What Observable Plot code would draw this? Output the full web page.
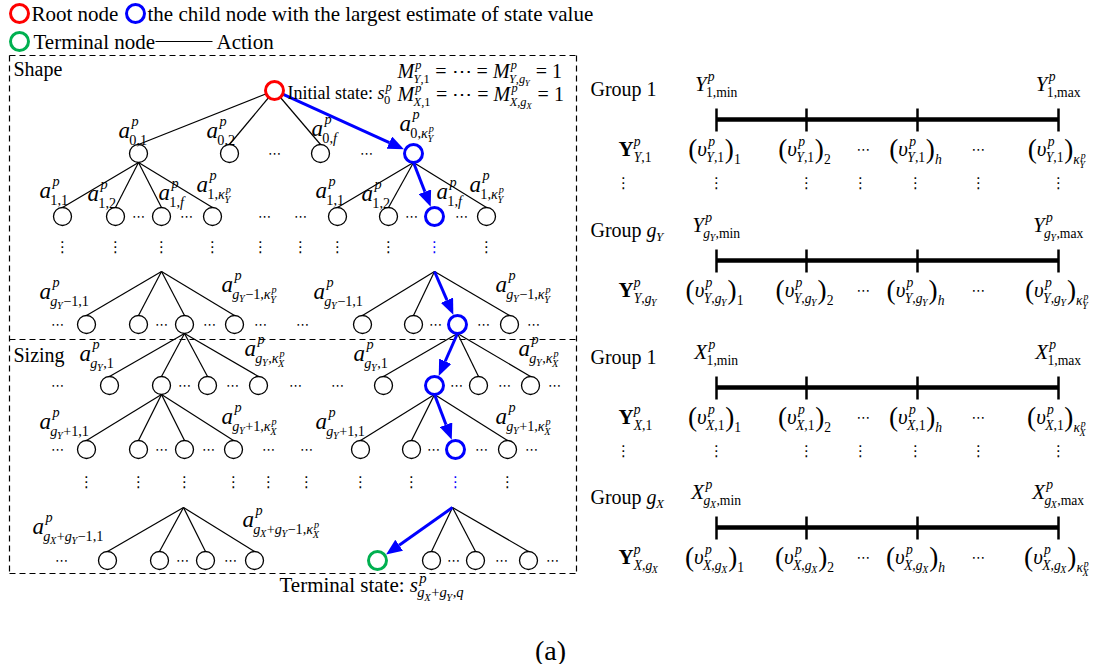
<!DOCTYPE html>
<html>
<head>
<meta charset="utf-8">
<script src="https://cdn.jsdelivr.net/npm/d3@7"></script>
<script src="https://cdn.jsdelivr.net/npm/@observablehq/plot@0.6"></script>
<style>
  html, body { margin: 0; padding: 0; background: #fff; }
</style>
</head>
<body>
<div id="chart"></div>
<script>
// ------------------------------------------------------------------
// DATA (diagram content)
// ------------------------------------------------------------------
const W = 1103, H = 664;
const FONT = '"Liberation Serif", "Times New Roman", serif';
const RED = "#ff0000", BLUE = "#0000ff", GREEN = "#00b050";
const NODE_R = 9;

// legend entries
const legendCircles = [
  {x: 19, y: 13, color: RED},
  {x: 135, y: 13, color: BLUE},
  {x: 19, y: 41, color: GREEN}
];
const legendTexts = [
  {tex: "\\tx{Root node}", x: 31, y: 20},
  {tex: "\\tx{the child node with the largest estimate of state value}", x: 147, y: 20},
  {tex: "\\tx{Terminal node}", x: 33, y: 48},
  {tex: "\\tx{Action}", x: 216, y: 48}
];
const legendLine = [{x1: 155, x2: 212, y: 41}];

// dashed frame: outer box and the divider between Shape and Sizing
const frameX = [9, 576];
const frameY = [55, 339, 573];

// tree: root, and groups of four children hanging from a node or an apex
const root = {x: 274, y: 90};
const treeGroups = [
  {px: 274, py: 90,  from: "root", cy: 153, cx: [138, 229, 320, 413], pick: 3},
  {px: 138, py: 153, from: "node", cy: 216, cx: [62, 115, 161, 212], pick: -1},
  {px: 413, py: 153, from: "node", cy: 216, cx: [337, 388, 434, 486], pick: 2},
  {px: 161, py: 271, from: "apex", cy: 324, cx: [86, 138, 184, 234], pick: -1},
  {px: 434, py: 271, from: "apex", cy: 324, cx: [362, 413, 457, 509], pick: 2},
  {px: 184, py: 324, from: "node", cy: 385, cx: [109, 161, 207, 258], pick: -1},
  {px: 457, py: 324, from: "node", cy: 385, cx: [383, 434, 478, 530], pick: 1},
  {px: 161, py: 385, from: "node", cy: 449, cx: [86, 138, 184, 233], pick: -1},
  {px: 434, py: 385, from: "node", cy: 449, cx: [360, 411, 455, 507], pick: 2},
  {px: 183, py: 507, from: "apex", cy: 560, cx: [107, 159, 205, 254], pick: -1},
  {px: 452, py: 507, from: "apex", cy: 560, cx: [377, 431, 475, 528], pick: 0, terminal: true}
];

// horizontal ellipses between nodes (per row)
const hEllipsisRows = [
  {y: 153, xs: [274, 366]},
  {y: 216, xs: [138, 186, 264, 300, 411, 461]},
  {y: 324, xs: [57, 161, 209, 260, 302, 435, 483, 533]},
  {y: 385, xs: [57, 184, 232, 295, 337, 456, 504, 554]},
  {y: 449, xs: [57, 161, 208, 268, 306, 433, 481, 531]},
  {y: 560, xs: [61, 182, 230, 453, 501, 552]}
];
// vertical ellipses
const vEllipsisRows = [
  {y: 247, xs: [62, 115, 161, 212, 260, 300, 337, 388, 434, 486], blue: 434},
  {y: 482, xs: [86, 138, 184, 233, 268, 306, 360, 411, 455, 507], blue: 455}
];

// action labels on the tree
const actionLabels = [
  {tex: "a^p_{0,1}", x: 118, y: 137},
  {tex: "a^p_{0,2}", x: 206, y: 137},
  {tex: "a^p_{0,f}", x: 311, y: 135},
  {tex: "a^p_{0,κ^p_Y}", x: 399, y: 130},
  {tex: "a^p_{1,1}", x: 39, y: 197},
  {tex: "a^p_{1,2}", x: 87, y: 200},
  {tex: "a^p_{1,f}", x: 158, y: 199},
  {tex: "a^p_{1,κ^p_Y}", x: 196, y: 191},
  {tex: "a^p_{1,1}", x: 315, y: 197},
  {tex: "a^p_{1,2}", x: 361, y: 200},
  {tex: "a^p_{1,f}", x: 436, y: 198},
  {tex: "a^p_{1,κ^p_Y}", x: 469, y: 191},
  {tex: "a^p_{g_Y−1,1}", x: 39, y: 298},
  {tex: "a^p_{g_Y−1,κ^p_Y}", x: 221, y: 291},
  {tex: "a^p_{g_Y−1,1}", x: 313, y: 298},
  {tex: "a^p_{g_Y−1,κ^p_Y}", x: 495, y: 291},
  {tex: "a^p_{g_Y,1}", x: 79, y: 360},
  {tex: "a^p_{g_Y,κ^p_X}", x: 244, y: 355},
  {tex: "a^p_{g_Y,1}", x: 353, y: 360},
  {tex: "a^p_{g_Y,κ^p_X}", x: 518, y: 355},
  {tex: "a^p_{g_Y+1,1}", x: 39, y: 428},
  {tex: "a^p_{g_Y+1,κ^p_X}", x: 221, y: 423},
  {tex: "a^p_{g_Y+1,1}", x: 315, y: 428},
  {tex: "a^p_{g_Y+1,κ^p_X}", x: 495, y: 423},
  {tex: "a^p_{g_X+g_Y−1,1}", x: 32, y: 533},
  {tex: "a^p_{g_X+g_Y−1,κ^p_X}", x: 242, y: 526}
];

// other annotations on the left panel
const mOpts = {scale: 0.62, sup: 0.42, sub: 0.24, subBoth: 0.27};
const panelTexts = [
  {tex: "\\tx{Shape}", x: 13, y: 75, size: 20},
  {tex: "\\tx{Sizing}", x: 13, y: 361, size: 20},
  {tex: "M^p_{Y,1} = ⋯ = M^p_{Y,g_Y} = 1", x: 397, y: 77, size: 20, opts: mOpts},
  {tex: "\\tx{Initial state: }s^p_0", x: 287, y: 98, size: 18},
  {tex: "M^p_{X,1} = ⋯ = M^p_{X,g_X} = 1", x: 397, y: 100, size: 20, opts: mOpts},
  {tex: "\\tx{Terminal state: }s^p_{g_X+g_Y,q}", x: 279, y: 591, size: 21},
  {tex: "\\tx{(a)}", x: 550, y: 659, size: 28, anchor: "middle"}
];

// right panel: discretised ranges
const scaleGroups = [
  {label: "\\tx{Group 1}", min: "Y^p_{1,\\rm{min}}", max: "Y^p_{1,\\rm{max}}", row: "\\bf{Y}^p_{Y,1}", v: "υ^p_{Y,1}", k: "κ^p_Y"},
  {label: "\\tx{Group }g_Y", min: "Y^p_{g_Y,\\rm{min}}", max: "Y^p_{g_Y,\\rm{max}}", row: "\\bf{Y}^p_{Y,g_Y}", v: "υ^p_{Y,g_Y}", k: "κ^p_Y"},
  {label: "\\tx{Group 1}", min: "X^p_{1,\\rm{min}}", max: "X^p_{1,\\rm{max}}", row: "\\bf{Y}^p_{X,1}", v: "υ^p_{X,1}", k: "κ^p_X"},
  {label: "\\tx{Group }g_X", min: "X^p_{g_X,\\rm{min}}", max: "X^p_{g_X,\\rm{max}}", row: "\\bf{Y}^p_{X,g_X}", v: "υ^p_{X,g_X}", k: "κ^p_X"}
];
const scaleBarY = [119, 260, 387, 527];
const tickX = [716, 806, 917, 1058];
const valueIndex = ["1", "2", "h", "k"];
const valueEllipsisX = [863, 978];
const groupLabelX = 590, rowLabelX = 618;
const scaleDotsX = [623, 716, 806, 860, 915, 978, 1058];
const scaleDotsGroups = [0, 2];

// ------------------------------------------------------------------
// small TeX-like layout helper -> text segments for Plot.text
// ------------------------------------------------------------------
const ctx = document.createElement("canvas").getContext("2d");
function measure(text, size, italic, bold) {
  ctx.font = `${italic ? "italic " : ""}${bold ? "bold " : ""}${size}px ${FONT}`;
  return ctx.measureText(text).width;
}
function parseMath(s) {
  let i = 0;
  function list(untilBrace) {
    const items = [];
    while (i < s.length) {
      const c = s[i];
      if (c === "}") { i++; if (untilBrace) return items; continue; }
      if (c === "^" || c === "_") {
        i++;
        const arg = atom();
        if (!items.length) items.push({type: "char", text: ""});
        const last = items[items.length - 1];
        if (c === "^") last.sup = arg; else last.sub = arg;
        continue;
      }
      items.push(atom());
    }
    return items;
  }
  function atom() {
    const c = s[i];
    if (c === "{") { i++; return {type: "group", items: list(true)}; }
    if (c === "\\") {
      let j = i + 1;
      while (j < s.length && /[a-z]/i.test(s[j])) j++;
      const cmd = s.slice(i + 1, j);
      i = j;
      if (s[i] === "{") {
        const end = s.indexOf("}", i);
        const content = s.slice(i + 1, end);
        if (!/[\\^_{]/.test(content)) { i = end + 1; return {type: "char", text: content, mode: cmd}; }
        i++;
        return {type: "group", items: list(true), mode: cmd};
      }
      return {type: "char", text: cmd};
    }
    i++;
    return {type: "char", text: c};
  }
  return list(false);
}
function styleFor(ch, mode) {
  if (mode === "bf") return {italic: false, bold: true};
  if (mode === "rm" || mode === "tx") return {italic: false, bold: false};
  return {italic: /^[A-Za-z\u03b1-\u03c9\u0391-\u03a9]+$/.test(ch), bold: false};
}
const wrap = (a) => (a.type === "group" ? a.items : [a]);
function layout(items, x, y, size, mode, out, o, depth) {
  let cx = x;
  for (const it of items) {
    const m = it.mode || mode;
    let w = 0, italic = false, big = false;
    if (it.type === "group") {
      w = layout(it.items, cx, y, size, m, out, o, depth);
    } else if (it.text) {
      const st = styleFor(it.text, m);
      italic = st.italic;
      let sz = size, dy = 0;
      if (m !== "tx" && /^[()]$/.test(it.text)) { sz = size * 1.3; dy = size * 0.12; big = true; }
      w = measure(it.text, sz, st.italic, st.bold);
      if (it.text.trim()) out.push({x: cx, y: y + dy, text: it.text, size: sz, italic: st.italic, bold: st.bold});
    }
    const k = depth === 0 ? o.scale : 0.72;
    const ss = Math.max(size * k, 9);
    const both = it.sup && it.sub;
    const up = depth === 0 ? o.sup : 0.42;
    const down = depth === 0 ? (both ? o.subBoth : o.sub) : (both ? 0.3 : 0.22);
    let sw = 0;
    if (it.sup) sw = Math.max(sw, layout(wrap(it.sup), cx + w + (italic ? size * 0.06 : 0), y - size * up, ss, "", out, o, depth + 1));
    if (it.sub) sw = Math.max(sw, layout(wrap(it.sub), cx + w - (italic ? size * 0.03 : 0), y + size * (down + (big ? 0.18 : 0)), ss, "", out, o, depth + 1));
    cx += w + sw;
  }
  return cx - x;
}
const defaultOpts = {scale: 0.7, sup: 0.42, sub: 0.22, subBoth: 0.28};
function mathSegs(tex, x, y, size, anchor, opts) {
  const out = [];
  const o = {...defaultOpts, ...(opts || {})};
  const w = layout(parseMath(tex), 0, 0, size, "", out, o, 0);
  const x0 = anchor === "middle" ? x - w / 2 : anchor === "end" ? x - w : x;
  return out.map((d) => ({...d, x: d.x + x0, y: d.y + y}));
}

// ------------------------------------------------------------------
// build mark data
// ------------------------------------------------------------------
const nodeLabelOpts = {scale: 0.62, sup: 0.5, sub: 0.25, subBoth: 0.33};
const rightOpts = {scale: 0.65, sup: 0.45, sub: 0.24, subBoth: 0.3};
const segs = [];
for (const d of legendTexts) segs.push(...mathSegs(d.tex, d.x, d.y, 21));
for (const d of panelTexts) segs.push(...mathSegs(d.tex, d.x, d.y, d.size, d.anchor, d.opts));
for (const d of actionLabels) segs.push(...mathSegs(d.tex, d.x, d.y, 23, "start", nodeLabelOpts));

const bars = [], ticks = [], valueDots = [], vDots = [];
scaleGroups.forEach((g, gi) => {
  const bar = scaleBarY[gi];
  bars.push({x1: tickX[0], x2: tickX[tickX.length - 1], y: bar});
  for (const tx of tickX) ticks.push({x: tx, y1: bar - 11, y2: bar + 12});
  segs.push(...mathSegs(g.label, groupLabelX, bar - 24, 20, "start", rightOpts));
  segs.push(...mathSegs(g.min, tickX[0], bar - 29, 21, "middle", rightOpts));
  segs.push(...mathSegs(g.max, tickX[tickX.length - 1], bar - 29, 21, "middle", rightOpts));
  segs.push(...mathSegs(g.row, rowLabelX, bar + 36, 21, "start", rightOpts));
  valueIndex.forEach((k, c) => {
    const sub = k === "k" ? `{${g.k}}` : k;
    segs.push(...mathSegs(`(${g.v})_${sub}`, tickX[c] - 2, bar + 36, 21, "middle", rightOpts));
  });
  for (const ex of valueEllipsisX) valueDots.push({x: ex, y: bar + 30});
  if (scaleDotsGroups.includes(gi)) for (const dx of scaleDotsX) vDots.push({x: dx, y: bar + 64, blue: false});
});

const nodes = [{x: root.x, y: root.y, kind: "root"}];
const edges = [], arrows = [];
const HEAD = 16;
for (const g of treeGroups) {
  g.cx.forEach((cx, i) => {
    const picked = i === g.pick;
    nodes.push({x: cx, y: g.cy, kind: picked ? (g.terminal ? "terminal" : "best") : "plain"});
    let sx = g.px, sy = g.py;
    if (g.from === "node") sy = g.py + NODE_R;
    if (picked) {
      let dx = cx - sx, dy = g.cy - sy, L = Math.hypot(dx, dy);
      let ux = dx / L, uy = dy / L;
      if (g.from === "root") { sx += ux * NODE_R; sy += uy * NODE_R; }
      dx = cx - sx; dy = g.cy - sy; L = Math.hypot(dx, dy); ux = dx / L; uy = dy / L;
      const tipX = cx - ux * (NODE_R + 1.5), tipY = g.cy - uy * (NODE_R + 1.5);
      arrows.push({x1: sx, y1: sy, x2: tipX - ux * HEAD, y2: tipY - uy * HEAD});
    } else {
      edges.push({x1: sx, y1: sy, x2: cx, y2: g.cy - NODE_R});
    }
  });
}
const hDots = hEllipsisRows.flatMap((r) => r.xs.map((x) => ({x, y: r.y})));
for (const r of vEllipsisRows) for (const x of r.xs) vDots.push({x, y: r.y, blue: x === r.blue});

const frameLines = [
  {x1: frameX[0], y1: frameY[0], x2: frameX[1], y2: frameY[0]},
  {x1: frameX[0], y1: frameY[1], x2: frameX[1], y2: frameY[1]},
  {x1: frameX[0], y1: frameY[2], x2: frameX[1], y2: frameY[2]},
  {x1: frameX[0], y1: frameY[0], x2: frameX[0], y2: frameY[2]},
  {x1: frameX[1], y1: frameY[0], x2: frameX[1], y2: frameY[2]}
];

function arrowHead(color) {
  const m = d3.create("svg:marker")
    .attr("viewBox", "0 -5 12 10")
    .attr("markerWidth", HEAD)
    .attr("markerHeight", HEAD * 10 / 12)
    .attr("markerUnits", "userSpaceOnUse")
    .attr("refX", 0).attr("refY", 0)
    .attr("orient", "auto")
    .attr("fill", color).attr("stroke", "none");
  m.append("path").attr("d", "M0,-5L12,0L0,5Z");
  return m.node();
}

const textOpts = {x: "x", y: "y", text: "text", fontSize: "size", textAnchor: "start", lineAnchor: "bottom", fontFamily: FONT, fill: "black"};

const chart = Plot.plot({
  width: W,
  height: H,
  margin: 0,
  x: {domain: [0, W], range: [0, W], axis: null},
  y: {domain: [0, H], range: [0, H], axis: null},
  style: {background: "white"},
  marks: [
    Plot.link(frameLines, {x1: "x1", y1: "y1", x2: "x2", y2: "y2", stroke: "black", strokeWidth: 1.2, strokeDasharray: "6,4"}),
    Plot.link(legendLine, {x1: "x1", x2: "x2", y1: "y", y2: "y", stroke: "black", strokeWidth: 1}),
    Plot.link(edges, {x1: "x1", y1: "y1", x2: "x2", y2: "y2", stroke: "black", strokeWidth: 1.2}),
    Plot.link(arrows, {x1: "x1", y1: "y1", x2: "x2", y2: "y2", stroke: BLUE, strokeWidth: 3, markerEnd: arrowHead}),
    Plot.dot(nodes.filter((d) => d.kind === "plain"), {x: "x", y: "y", r: NODE_R, fill: "white", stroke: "black", strokeWidth: 1.3}),
    Plot.dot(nodes.filter((d) => d.kind === "best"), {x: "x", y: "y", r: NODE_R, fill: "white", stroke: BLUE, strokeWidth: 3}),
    Plot.dot(nodes.filter((d) => d.kind === "root"), {x: "x", y: "y", r: NODE_R, fill: "white", stroke: RED, strokeWidth: 3}),
    Plot.dot(nodes.filter((d) => d.kind === "terminal"), {x: "x", y: "y", r: NODE_R, fill: "white", stroke: GREEN, strokeWidth: 3}),
    Plot.dot(legendCircles, {x: "x", y: "y", r: 9, fill: "white", stroke: "color", strokeWidth: 3}),
    Plot.link(bars, {x1: "x1", x2: "x2", y1: "y", y2: "y", stroke: "black", strokeWidth: 4.5}),
    Plot.link(ticks, {x1: "x", x2: "x", y1: "y1", y2: "y2", stroke: "black", strokeWidth: 2.5}),
    Plot.text(hDots, {x: "x", y: "y", text: () => "⋯", fontSize: 13, fontFamily: "DejaVu Sans", lineAnchor: "middle"}),
    Plot.text(valueDots, {x: "x", y: "y", text: () => "⋯", fontSize: 14, fontFamily: "DejaVu Sans", lineAnchor: "middle"}),
    Plot.text(vDots.filter((d) => !d.blue), {x: "x", y: "y", text: () => "⋮", fontSize: 15, fontFamily: "DejaVu Sans", lineAnchor: "middle"}),
    Plot.text(vDots.filter((d) => d.blue), {x: "x", y: "y", text: () => "⋮", fontSize: 15, fontFamily: "DejaVu Sans", lineAnchor: "middle", fill: BLUE}),
    Plot.text(segs.filter((d) => !d.italic && !d.bold), textOpts),
    Plot.text(segs.filter((d) => d.italic), {...textOpts, fontStyle: "italic"}),
    Plot.text(segs.filter((d) => d.bold), {...textOpts, fontWeight: "bold"})
  ]
});
document.getElementById("chart").appendChild(chart);
</script>
</body>
</html>
